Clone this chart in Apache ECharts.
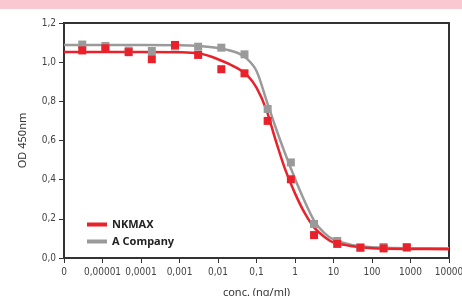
<!DOCTYPE html>
<html><head><meta charset="utf-8">
<script src="https://cdn.jsdelivr.net/npm/echarts@6/dist/echarts.min.js"></script>
<style>html,body{margin:0;padding:0;background:#fff}#c{width:462px;height:296px}</style>
</head><body><div id="c"></div>
<script>
// concentrations (ng/ml) of the measured points
var conc = [0.00000298, 0.0000119, 0.0000477, 0.000191, 0.000763, 0.00305, 0.0122, 0.0488, 0.195, 0.781, 3.125, 12.5, 50, 200, 800];
var nkmaxPts = [1.060, 1.071, 1.051, 1.015, 1.088, 1.037, 0.964, 0.943, 0.700, 0.402, 0.117, 0.072, 0.053, 0.049, 0.054];
var aCompanyPts = [1.090, 1.083, 1.059, 1.057, 1.080, 1.079, 1.074, 1.040, 0.761, 0.488, 0.174, 0.087, 0.053, 0.056, 0.055];
// fitted curves
var curveConc = [0.000001, 0.00001, 0.0001, 0.001, 0.00316, 0.01, 0.0316, 0.0562, 0.1, 0.178, 0.316, 0.562, 1, 1.78, 3.16, 5.62, 10, 31.6, 100, 1000, 10000];
var nkmaxCurve = [1.052, 1.052, 1.052, 1.051, 1.045, 1.015, 0.97, 0.935, 0.87, 0.76, 0.60, 0.45, 0.33, 0.23, 0.155, 0.11, 0.08, 0.06, 0.05, 0.046, 0.045];
var aCompanyCurve = [1.088, 1.088, 1.088, 1.087, 1.083, 1.072, 1.048, 1.018, 0.955, 0.81, 0.665, 0.53, 0.405, 0.29, 0.19, 0.13, 0.095, 0.065, 0.055, 0.05, 0.05];
var xTickLabels = ['0', '0,00001', '0,0001', '0,001', '0,01', '0,1', '1', '10', '100', '1000', '10000'];
var seriesNames = ['NKMAX', 'A Company'];

function pairs(xs, ys) { return xs.map(function (x, i) { return [x, ys[i]]; }); }
var RED = '#e8212b', GRAY = '#9a9a9a';
var FONT = 'DejaVu Sans Condensed, Liberation Sans Narrow, sans-serif';

var chart = echarts.init(document.getElementById('c'));
chart.setOption({
  animation: false,
  graphic: [{ type: 'rect', left: 0, top: 0, shape: { width: 462, height: 9 }, style: { fill: '#f9c8d0' }, z: -1 }],
  grid: { left: 64, right: 13, top: 23, bottom: 38, show: true, borderColor: '#333', borderWidth: 2, containLabel: false, outerBoundsMode: 'none' },
  legend: {
    left: 82, top: 214, orient: 'vertical', itemGap: 6, itemWidth: 20, itemHeight: 4,
    data: [{ name: seriesNames[0], icon: 'rect' }, { name: seriesNames[1], icon: 'rect' }],
    textStyle: { fontFamily: 'Noto Sans, sans-serif', fontWeight: 'bold', fontSize: 11, color: '#222' }
  },
  xAxis: {
    type: 'log', logBase: 10, min: 0.000001, max: 10000, interval: 1,
    name: 'conc. (ng/ml)', nameLocation: 'middle', nameGap: 29,
    nameTextStyle: { fontFamily: 'Noto Sans, sans-serif', fontSize: 11, color: '#333' },
    axisLine: { lineStyle: { color: '#333', width: 2 } },
    axisTick: { show: true, length: 5, lineStyle: { color: '#333' } },
    minorTick: { show: false }, splitLine: { show: false },
    axisLabel: {
      fontFamily: FONT, fontSize: 10, color: '#444', margin: 9,
      formatter: function (v) { var e = Math.round(Math.log10(v)) + 6; return xTickLabels[e] || ''; }
    }
  },
  yAxis: {
    type: 'value', min: 0, max: 1.2, interval: 0.2,
    name: 'OD 450nm', nameLocation: 'middle', nameGap: 36,
    nameTextStyle: { fontFamily: 'Noto Sans, sans-serif', fontSize: 11, color: '#333' },
    axisLine: { show: true, lineStyle: { color: '#333', width: 2 } },
    axisTick: { show: true, length: 5, lineStyle: { color: '#333' } },
    splitLine: { show: false },
    axisLabel: { fontFamily: FONT, fontSize: 10, color: '#444', margin: 8, formatter: function (v) { return v.toFixed(1).replace('.', ','); } }
  },
  series: [
    { name: seriesNames[1], type: 'line', data: pairs(curveConc, aCompanyCurve), smooth: 0.3, symbol: 'none', lineStyle: { color: GRAY, width: 2.5 }, itemStyle: { color: GRAY }, z: 2 },
    { name: seriesNames[0], type: 'line', data: pairs(curveConc, nkmaxCurve), smooth: 0.3, symbol: 'none', lineStyle: { color: RED, width: 2.5 }, itemStyle: { color: RED }, z: 3 },
    { name: 'grayPts', type: 'scatter', data: pairs(conc, aCompanyPts), symbol: 'rect', symbolSize: 8, itemStyle: { color: GRAY, opacity: 1 }, z: 4 },
    { name: 'redPts', type: 'scatter', data: pairs(conc, nkmaxPts), symbol: 'rect', symbolSize: 8, itemStyle: { color: RED, opacity: 1 }, z: 5 }
  ]
});
</script></body></html>
